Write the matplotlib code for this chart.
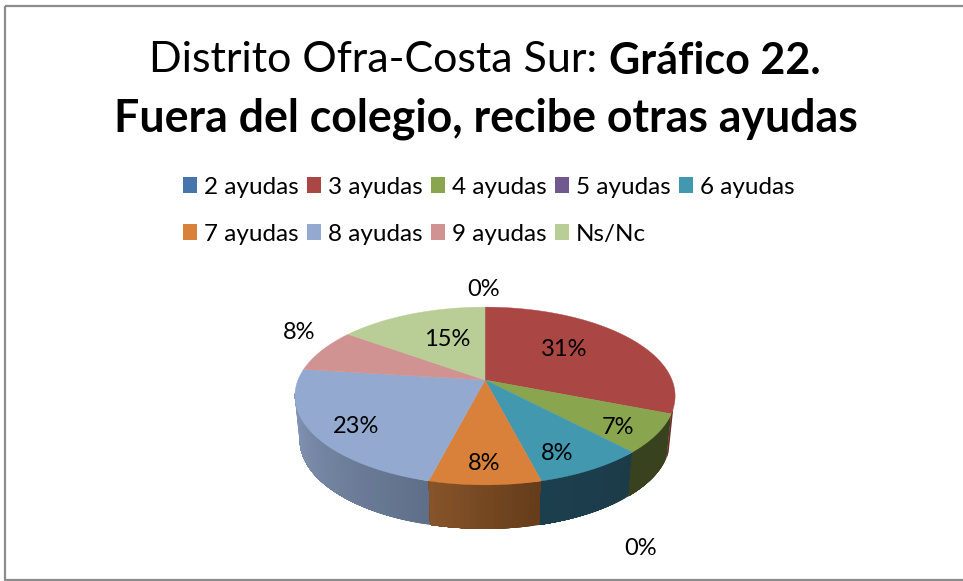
import numpy as np
import matplotlib
matplotlib.use("Agg")
import matplotlib.pyplot as plt
from matplotlib.patches import Patch, Rectangle
from matplotlib.colors import to_rgb

categories = ["2 ayudas", "3 ayudas", "4 ayudas", "5 ayudas", "6 ayudas",
              "7 ayudas", "8 ayudas", "9 ayudas", "Ns/Nc"]
values = [0, 31, 7, 0, 8, 8, 23, 8, 15]
colors = ["#4674AC", "#AA4643", "#89A54E", "#71588F", "#4198AF",
          "#D9813B", "#93A9CF", "#D19392", "#B9CD96"]
wall_left = ["#35577F", "#7A2F2D", "#38421F", "#4A3A5E", "#1C3F4E",
             "#87542A", "#8597B8", "#9A6A69", "#8A9A70"]
wall_right = ["#35577F", "#6A2624", "#38421F", "#4A3A5E", "#1C3B49",
              "#643C1A", "#5F6F88", "#9A6A69", "#8A9A70"]
title_regular = "Distrito Ofra-Costa Sur:"
title_bold_1 = "Gráfico 22."
title_bold_2 = "Fuera del colegio, recibe otras ayudas"
label_texts = ["0%", "31%", "7%", "0%", "8%", "8%", "23%", "8%", "15%"]
label_xy = [(484, 289), (564, 349.5), (618, 427.5), (641, 548.5), (557, 453.5),
            (484, 463.5), (356, 426.5), (299, 332.5), (447, 339.5)]

FONT = "Lato"
plt.rcParams["font.family"] = [FONT, "DejaVu Sans"]

fig = plt.figure(figsize=(9.63, 5.81), dpi=100, facecolor="white")
ax = fig.add_axes([0, 0, 1, 1])
ax.set_xlim(0, 963)
ax.set_ylim(581, 0)
ax.axis("off")

# border
ax.add_patch(Rectangle((5, 5.5), 1000, 574.5, fill=False, ec="#8C8C8C", lw=1.6, clip_on=True))

# perspective pie geometry
CX, CY, R, KR, P, DEPTH, INSET = 485, 380, 187, 86, 0.18, 44, 0.975

def top_xy(theta):
    c, s = np.cos(theta), np.sin(theta)
    k = 1 / (1 + P * c)
    return CX + R * s * k, CY - KR * c * k

def bottom_xy(theta):
    x, y = top_xy(theta)
    return CX + (x - CX) * INSET, y + DEPTH

total = sum(values)
edges = np.radians(np.cumsum([0] + values) / total * 360)
VIS0, VIS1 = np.radians(108), np.radians(261)

# side walls (overlapping strips give the shading without seams)
for i in range(len(values)):
    a0, a1 = max(edges[i], VIS0), min(edges[i + 1], VIS1)
    if a1 <= a0:
        continue
    n = max(int((a1 - a0) / np.radians(1.5)), 2)
    ts = np.linspace(a0, a1, n + 1)
    cr, cl = np.array(to_rgb(wall_right[i])), np.array(to_rgb(wall_left[i]))
    for j in range(n):
        t = (j + 0.5) / n
        col = tuple(cr + (cl - cr) * t)
        seg = np.linspace(ts[j], ts[-1], 4 + (n - j))
        xt, yt = top_xy(seg)
        xb, yb = bottom_xy(seg)
        ax.fill(np.r_[xt, xb[::-1]], np.r_[yt, yb[::-1]], facecolor=col, edgecolor="none",
                zorder=2 + 0.001 * j / n + 0.0001 * i)

# top surface
for i in range(len(values)):
    if values[i] == 0:
        continue
    seg = np.linspace(edges[i], edges[i + 1], 120)
    xt, yt = top_xy(seg)
    ax.fill(np.r_[CX, xt], np.r_[CY, yt], color=colors[i], lw=0.3, zorder=3)

# data labels
for txt, (x, y) in zip(label_texts, label_xy):
    ax.text(x, y, txt, ha="center", va="center", fontsize=17, color="black", zorder=5)

# title
ax.text(149, 60.5, title_regular, fontsize=31, ha="left", va="center")
ax.text(609, 60.5, title_bold_1, fontsize=31, fontweight="bold", ha="left", va="center")
ax.text(485.5, 118.5, title_bold_2, fontsize=32.1, fontweight="bold", ha="center", va="center")

# legend
order = [0, 5, 1, 6, 2, 7, 3, 8, 4]
handles = [Patch(facecolor=colors[i], edgecolor="none") for i in order]
labels = [categories[i] for i in order]
leg = ax.legend(handles, labels, ncols=5, loc="upper left", bbox_to_anchor=(0.19, 0.696),
                frameon=False, fontsize=17.5, handlelength=0.58, handleheight=0.58,
                handletextpad=0.3, columnspacing=0.32, labelspacing=1.07,
                borderpad=0, borderaxespad=0)

fig.savefig("out.png", dpi=100)
